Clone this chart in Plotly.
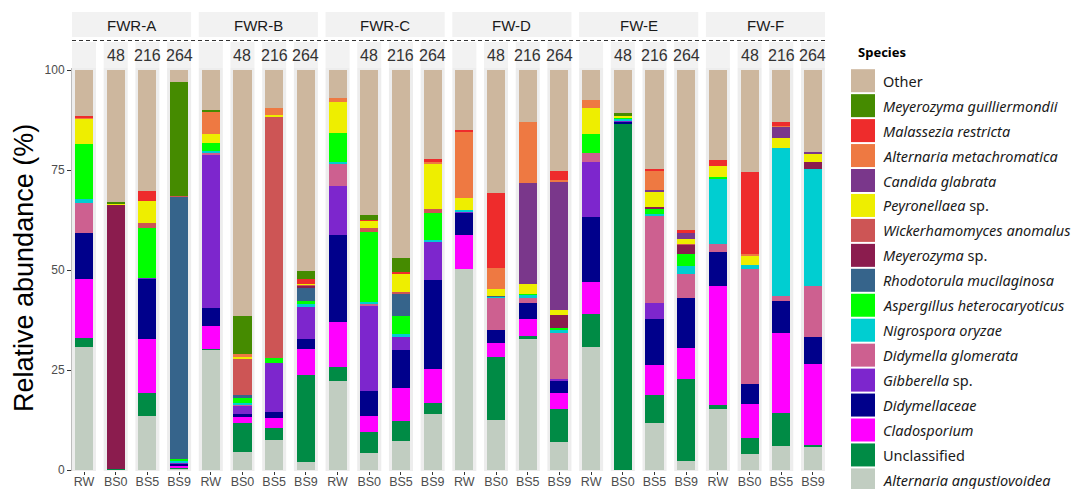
import plotly.graph_objects as go

# ---------------- data ----------------
groups = ["FWR-A", "FWR-B", "FWR-C", "FW-D", "FW-E", "FW-F"]
samples = ["RW", "BS0", "BS5", "BS9"]
hours = ["", "48", "216", "264"]

# stacking order: bottom -> top
species = [
    "Alternaria angustiovoidea", "Unclassified", "Cladosporium", "Didymellaceae",
    "Gibberella sp.", "Didymella glomerata", "Nigrospora oryzae",
    "Aspergillus heterocaryoticus", "Rhodotorula mucilaginosa", "Meyerozyma sp.",
    "Wickerhamomyces anomalus", "Peyronellaea sp.", "Candida glabrata",
    "Alternaria metachromatica", "Malassezia restricta", "Meyerozyma guilliermondii", "Other",
]
legend_labels = [
    "<i>Alternaria angustiovoidea</i>", "Unclassified", "<i>Cladosporium</i>", "<i>Didymellaceae</i>",
    "<i>Gibberella</i> sp.", "<i>Didymella glomerata</i>", "<i>Nigrospora oryzae</i>",
    "<i>Aspergillus heterocaryoticus</i>", "<i>Rhodotorula mucilaginosa</i>", "<i>Meyerozyma</i> sp.",
    "<i>Wickerhamomyces anomalus</i>", "<i>Peyronellaea</i> sp.", "<i>Candida glabrata</i>",
    "<i>Alternaria metachromatica</i>", "<i>Malassezia restricta</i>", "<i>Meyerozyma guilliermondii</i>", "Other",
]
colors = [
    "#C1CDC1", "#008B45", "#FF00FF", "#00008B",
    "#7D26CD", "#CD6090", "#00CED1",
    "#00FF00", "#36648B", "#8B1C4E",
    "#CD5555", "#EEEE00", "#7A378B",
    "#EE7942", "#EE2C2C", "#458B00", "#CDB79E",
]

# values per species, 24 samples: groups x (RW, BS0, BS5, BS9)
alt_angustiovoidea = [30.8, 0, 13.6, 0.4, 30.0, 4.6, 7.5, 2.1, 22.2, 4.3, 7.3, 13.9, 50.2, 12.5, 32.7, 7.1, 30.8, 0, 11.7, 2.3, 15.2, 3.9, 6.0, 5.7]
unclassified = [2.3, 0.3, 5.6, 0.2, 0.2, 7.1, 3.1, 21.6, 3.6, 5.3, 4.9, 2.8, 0, 15.7, 0.8, 8.1, 8.2, 86.7, 7.1, 20.4, 1.1, 4.0, 8.3, 0.6]
cladosporium = [14.6, 0, 13.6, 0.5, 5.9, 1.6, 2.3, 6.5, 11.3, 3.9, 8.4, 8.6, 8.5, 3.5, 4.2, 4.0, 8.1, 0, 7.5, 7.9, 29.8, 8.6, 20.0, 20.2]
didymellaceae = [11.6, 0, 15.1, 0.3, 4.3, 0.8, 1.7, 2.5, 21.7, 6.3, 9.5, 22.2, 5.6, 3.3, 4.1, 3.1, 16.2, 0.3, 11.4, 12.3, 8.3, 5.0, 7.9, 6.8]
gibberella = [0, 0, 0.2, 0.5, 38.5, 2.1, 12.1, 8.1, 12.2, 21.4, 3.2, 9.6, 0.2, 0, 0, 0.5, 13.6, 0.4, 4.0, 0, 0, 0, 0, 0]
didymella_glomerata = [7.4, 0, 0, 0, 0.3, 0.2, 0, 0, 5.7, 0.2, 0, 0, 0, 8.1, 1.3, 11.4, 2.4, 0, 22.0, 6.2, 2.1, 28.7, 1.3, 12.8]
nigrospora = [1.0, 0, 0, 0.3, 0.5, 0.3, 0, 0.8, 0.2, 0.5, 0.8, 0.3, 0.5, 0.3, 0.8, 0.8, 0, 0.4, 0.4, 1.9, 16.4, 1.1, 37.0, 29.2]
aspergillus = [13.8, 0, 12.3, 0.5, 2.1, 1.2, 1.2, 0.6, 7.3, 17.5, 4.3, 6.8, 0, 0, 0.2, 0.4, 4.8, 0.4, 1.1, 3.1, 0.3, 0, 0, 0]
rhodotorula = [0, 0, 0, 65.6, 0, 0.8, 0, 3.4, 0, 0, 5.8, 0, 0, 0.2, 0, 0, 0, 0, 0, 0, 0, 0, 0, 0]
meyerozyma_sp = [0, 66.0, 0, 0, 0, 0, 0, 0.4, 0, 0, 0, 0, 0, 0, 0, 3.3, 0, 0, 0.6, 2.2, 0, 0, 0, 1.8]
wickerhamomyces = [0, 0, 1.4, 0.2, 0, 9.0, 60.3, 0.3, 0, 1.0, 0.3, 1.0, 0, 0, 0, 0, 0, 0, 0, 0.3, 0, 0, 0, 0]
peyronellaea = [6.25, 0.3, 5.4, 0, 2.1, 0.6, 0.6, 0.3, 7.9, 1.9, 4.6, 11.5, 2.9, 1.6, 2.4, 1.3, 6.4, 0.4, 3.6, 1.2, 2.9, 2.3, 2.6, 2.1]
candida = [0, 0, 0, 0, 0, 0, 0, 0, 0, 0, 0, 0, 0, 0, 25.3, 32.1, 0, 0, 0.6, 1.5, 0, 0, 2.7, 0.4]
alt_metachromatica = [0.4, 0, 0, 0, 5.7, 0.6, 1.8, 0, 0.8, 0, 0, 0.4, 16.8, 5.4, 15.1, 0.4, 2.1, 0, 4.8, 0, 0, 0.3, 0.3, 0]
malassezia = [0.3, 0, 2.5, 0, 0, 0, 0, 1.2, 0, 0.3, 0.3, 0.7, 0.4, 18.6, 0, 2.2, 0, 0, 0.4, 0.8, 1.4, 20.7, 0.8, 0]
meyerozyma_g = [0, 0.4, 0, 28.5, 0.4, 9.6, 0, 2.0, 0, 1.2, 3.7, 0, 0, 0, 0, 0, 0, 0.6, 0, 0, 0, 0, 0, 0]
other = [11.55, 33.0, 30.3, 3.0, 10.0, 61.5, 9.4, 50.2, 7.1, 36.2, 46.9, 22.2, 14.9, 30.8, 13.1, 25.3, 7.4, 10.8, 24.8, 39.9, 22.5, 25.4, 13.1, 20.4]

series = [
    alt_angustiovoidea, unclassified, cladosporium, didymellaceae, gibberella,
    didymella_glomerata, nigrospora, aspergillus, rhodotorula, meyerozyma_sp,
    wickerhamomyces, peyronellaea, candida, alt_metachromatica, malassezia,
    meyerozyma_g, other,
]

yticks = [0, 25, 50, 75, 100]

# ---------------- layout geometry ----------------
W, H = 1081, 489
PL, PR, PT, PB = 72, 825, 68, 471
HALF = 0.379  # half-width of each sub-panel in category units


def px_x(px):
    return (px - PL) / (PR - PL)


def px_y(py):
    return (PB - py) / (PB - PT)


n = len(groups) * len(samples)
positions = list(range(n))
tick_text = [s for g in groups for s in samples]

fig = go.Figure()
for name, vals, col in zip(species, series, colors):
    fig.add_trace(go.Bar(
        x=positions, y=vals, name=name, marker_color=col,
        marker_line_width=0, width=0.57, showlegend=False,
    ))

shapes = []
annotations = []
STRIP = "#F2F2F2"
PANEL = "#EDEDED"
TXT = "#1A1A1A"

for i in positions:
    # panel background
    shapes.append(dict(type="rect", xref="x", yref="paper", x0=i - HALF, x1=i + HALF,
                       y0=0, y1=1, fillcolor=PANEL, line_width=0, layer="below"))
    # small strip with hour label
    shapes.append(dict(type="rect", xref="x", yref="paper", x0=i - HALF, x1=i + HALF,
                       y0=px_y(68), y1=px_y(42), fillcolor=STRIP, line_width=0, layer="below"))
    h = hours[i % len(samples)]
    if h:
        annotations.append(dict(x=i, y=px_y(56), xref="x", yref="paper", text=h, showarrow=False,
                                font=dict(family="Liberation Sans, Arial", size=16, color="#333333"),
                                xanchor="center", yanchor="middle"))

for gi, g in enumerate(groups):
    first = gi * len(samples)
    last = first + len(samples) - 1
    shapes.append(dict(type="rect", xref="x", yref="paper", x0=first - HALF, x1=last + HALF,
                       y0=px_y(37), y1=px_y(12), fillcolor=STRIP, line_width=0, layer="below"))
    annotations.append(dict(x=(first + last) / 2, y=px_y(25), xref="x", yref="paper", text=g,
                            showarrow=False, font=dict(family="Liberation Sans, Arial", size=15, color=TXT),
                            xanchor="center", yanchor="middle"))

# dashed separator line
shapes.append(dict(type="line", xref="x", yref="paper", x0=-HALF, x1=n - 1 + HALF,
                   y0=px_y(40.5), y1=px_y(40.5), line=dict(color="#333333", width=1, dash="4px,3px")))

# y axis title
annotations.append(dict(x=px_x(24), y=px_y(268), xref="paper", yref="paper",
                        text="Relative abundance (%)", textangle=-90, showarrow=False,
                        font=dict(family="Liberation Sans, Arial", size=27, color="#000000"),
                        xanchor="center", yanchor="middle"))

# legend (manual, top -> bottom is reverse of stacking order)
LEG_FONT = "Noto Sans, Open Sans, sans-serif"
annotations.append(dict(x=px_x(856), y=px_y(52), xref="paper", yref="paper", text="<b>Species</b>",
                        showarrow=False, xanchor="left", yanchor="middle",
                        font=dict(family=LEG_FONT, size=13, color="#000000")))
for k, idx in enumerate(reversed(range(len(species)))):
    cy = 80.7 + k * 24.95
    shapes.append(dict(type="rect", xref="paper", yref="paper",
                       x0=px_x(851), x1=px_x(875), y0=px_y(cy + 11.5), y1=px_y(cy - 11.5),
                       fillcolor=colors[idx], line_width=0))
    annotations.append(dict(x=px_x(881), y=px_y(cy), xref="paper", yref="paper",
                            text=legend_labels[idx], showarrow=False, xanchor="left", yanchor="middle",
                            font=dict(family=LEG_FONT, size=14.5, color=TXT)))

fig.update_layout(
    width=W, height=H,
    margin=dict(l=PL, r=W - PR, t=PT, b=H - PB, autoexpand=False),
    barmode="stack",
    paper_bgcolor="white", plot_bgcolor="white",
    shapes=shapes, annotations=annotations,
    showlegend=False,
    xaxis=dict(range=[-HALF, n - 1 + HALF], tickvals=positions, ticktext=tick_text,
               showgrid=False, zeroline=False, showline=False,
               ticks="outside", ticklen=3, tickcolor="#333333",
               ticklabelstandoff=-4,
               tickfont=dict(family="Liberation Sans, Arial", size=12.5, color="#4D4D4D"),
               fixedrange=True),
    yaxis=dict(range=[-0.25, 100.5], tickvals=yticks, ticktext=[str(v) for v in yticks],
               showgrid=False, zeroline=False, showline=True, linecolor="#BDBDBD", linewidth=1,
               ticks="outside", ticklen=4, tickcolor="#333333",
               tickfont=dict(family="Liberation Sans, Arial", size=12, color="#4D4D4D"),
               fixedrange=True),
)

fig.write_html(
    "out.html",
    config={"displayModeBar": False},
    post_script="document.body.style.margin='0';document.body.style.overflow='hidden';",
)
